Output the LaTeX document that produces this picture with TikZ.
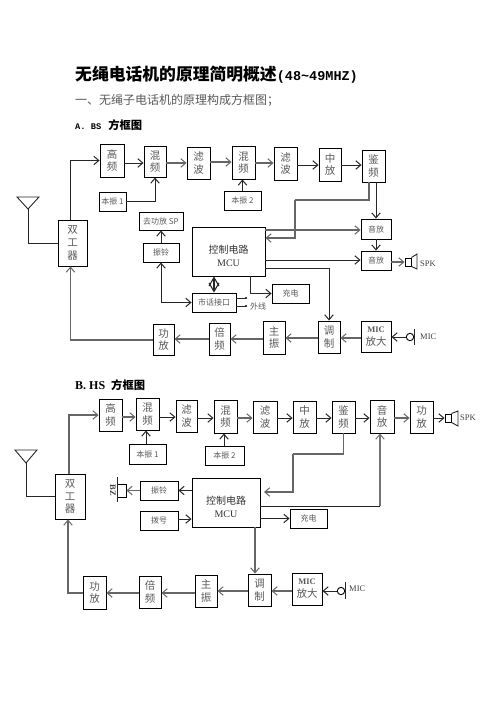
\documentclass[tikz,border=0pt]{standalone}
\usepackage{fontspec}
\setmainfont{Liberation Serif}
\newfontfamily\cjk{Noto Sans CJK SC}
\newfontfamily\monofont{Liberation Mono}
\usetikzlibrary{arrows.meta,calc}
\definecolor{txtgray}{gray}{0.35}
\newcommand{\mcutext}{\rule{0pt}{18pt}{\cjk 控制电路}\\MCU}
\newcommand{\mictext}{{\rmfamily\fontsize{8.5}{10}\selectfont\bfseries MIC}}
\tikzset{
  box/.style 2 args={draw,line width=0.9pt,inner sep=0pt,align=center,
    minimum width=#1pt,minimum height=#2pt,text=txtgray,font=\cjk\fontsize{10.5}{12.8}\selectfont},
  smallbox/.style 2 args={box={#1}{#2},font=\cjk\fontsize{8}{10}\selectfont},
  mcubox/.style 2 args={box={#1}{#2},text=black!80,font=\fontsize{10}{13}\selectfont},
  wire/.style={line width=0.9pt,draw=black!85},
  heavy/.style={line width=1.5pt,draw=black!60},
  arr/.style={wire,->},
  heavyarr/.style={heavy,->},
  tag/.style={inner sep=0pt,anchor=west,font=\fontsize{8.5}{10}\selectfont,text=black!75},
  head/.style={inner sep=0pt,anchor=west},
}
\begin{document}
\begin{tikzpicture}[x=1pt,y=-1pt,>={Straight Barb[length=5pt,width=8.5pt,line width=1pt]}]
  \useasboundingbox (0,0) rectangle (496,702);
  % headings
  \node[head] (title) at (75,75) {\cjk\bfseries\fontsize{16.8}{18}\selectfont 无绳电话机的原理简明概述{\monofont\fontsize{13.5}{18}\selectfont(48\textasciitilde49MHZ)}};
  \node[head,text=txtgray] (subtitle) at (75,100) {\cjk\fontsize{12}{14}\selectfont 一、无绳子电话机的原理构成方框图；};
  \node[head] (titleA) at (75,125) {{\monofont\bfseries\fontsize{8.7}{12}\selectfont A. BS}\hspace{7pt}{\cjk\bfseries\fontsize{11.3}{12}\selectfont 方框图}};
  \node[head] (titleB) at (75,385) {{\bfseries\fontsize{12}{12}\selectfont B. HS}\hspace{6pt}{\cjk\bfseries\fontsize{11.3}{12}\selectfont 方框图}};

  % A : blocks
  \node[box={24}{33}] (gaopinA) at (112,160.5) {高\\频};
  \node[box={22}{31}] (hunpinA) at (155,161.5) {混\\频};
  \node[box={23}{32}] (lvboA) at (198.5,163) {滤\\波};
  \node[box={23}{33}] (hunpinAA) at (243.5,162.5) {混\\频};
  \node[box={23}{33}] (lvboAA) at (285.5,163.5) {滤\\波};
  \node[box={22}{33}] (zhongfangA) at (330,164.5) {中\\放};
  \node[box={23}{32}] (jianpinA) at (373.5,166) {鉴\\频};
  \node[smallbox={27}{19}] (benzhenA) at (112.5,201.5) {本振 1};
  \node[smallbox={37}{19}] (benzhenAA) at (242.5,200.5) {本振 2};
  \node[smallbox={44}{18}] (qugongA) at (161,221) {去功放 SP};
  \node[smallbox={36}{19}] (zhenlingA) at (161,252.5) {振铃};
  \node[mcubox={73}{49}] (mcuA) at (228.5,251.5) {\mcutext};
  \node[smallbox={44}{19}] (shihuaA) at (214,302.5) {市话接口};
  \node[box={29}{46}] (duplexA) at (72.5,243) {双\\工\\器};
  \node[box={21}{31}] (gongfangA) at (163.5,339.5) {功\\放};
  \node[box={21}{32}] (beipinA) at (219.5,339) {倍\\频};
  \node[box={22}{33}] (zhuzhenA) at (274,337.5) {主\\振};
  \node[box={22}{32}] (tiaozhiA) at (329,337) {调\\制};
  \node[box={30}{31}] (micampA) at (376,336.5) {\mictext\\放大};
  \node[smallbox={30}{20}] (yinfangA) at (376,229) {音放};
  \node[smallbox={30}{19}] (yinfangAA) at (376,260.5) {音放};
  \node[smallbox={37}{19}] (chongdianA) at (290.5,293.5) {充电};

  % A : antenna, speaker, microphone
  \coordinate (antA) at (28,209);
  \draw[wire] (17,197) -- (39,197) -- (antA) -- cycle;
  \draw[wire] (antA) |- (duplexA.west);
  \node[draw,line width=0.9pt,minimum width=6pt,minimum height=8pt,inner sep=0pt] (spkA) at (408,262) {};
  \draw[wire] (spkA.north east) -- (417,254) -- (417,269) -- (spkA.south east);
  \node[tag] (spktagA) at (420,264) {SPK};
  \node[circle,draw,line width=0.9pt,minimum size=7.4pt,inner sep=0pt] (micA) at (410,337) {};
  \draw[wire] (414,329) -- (414,345);
  \node[tag] (mictagA) at (420,337) {MIC};
  \fill (246,298) circle (1.2pt) coordinate (lineAa);
  \fill (246,306) circle (1.2pt) coordinate (lineAb);
  \draw[wire] (lineAa -| shihuaA.east) -- (lineAa);
  \draw[wire] (lineAb -| shihuaA.east) -- (lineAb);
  \node[tag,text=txtgray,font=\cjk\fontsize{8}{10}\selectfont] (waixianA) at (250,306) {外线};

  % A : connectors
  \draw[arr] (duplexA.north -| 70.5,0) |- (gaopinA.west);
  \draw[arr] (gaopinA.east |- 0,163) -- (hunpinA.west |- 0,163);
  \draw[heavyarr] (hunpinA.east |- 0,163) -- (lvboA.west |- 0,163);
  \draw[heavyarr] (lvboA.east |- 0,162) -- (hunpinAA.west |- 0,162);
  \draw[heavyarr] (hunpinAA.east |- 0,163) -- (lvboAA.west |- 0,163);
  \draw[arr] (lvboAA.east |- 0,165) -- (zhongfangA.west |- 0,165);
  \draw[arr] (zhongfangA.east |- 0,165) -- (jianpinA.west |- 0,165);
  \draw[arr] (benzhenA.east) -| (hunpinA.south);
  \draw[arr] (benzhenAA.north) -- (hunpinAA.south -| benzhenAA.north);
  \draw[arr] (zhenlingA.north) -- (qugongA.south);
  \draw[wire,<->] (zhenlingA.south) |- (shihuaA.west);
  \draw[wire,line width=1.1pt,<->,>={Straight Barb[length=8.5pt,width=10pt,line width=1.1pt]}] (mcuA.south -| shihuaA.north) -- (shihuaA.north);
  \coordinate (jianbendA) at (295,200);
  \coordinate (jiandownA) at (295,238);
  \draw[heavy] (369,182) |- (jianbendA);
  \draw[heavy,->] (jianbendA) -- (jiandownA) -- (jiandownA -| mcuA.east);
  \draw[arr] (376,182) -- (yinfangA.north);
  \draw[heavyarr] (mcuA.east |- 0,230) -- (yinfangA.west |- 0,230);
  \draw[arr] (yinfangA.south) -- (yinfangAA.north);
  \draw[arr] (mcuA.east |- 0,260) -- (yinfangAA.west |- 0,260);
  \draw[heavyarr] (yinfangAA.east |- spkA) -- (spkA.west);
  \draw[wire,->] (mcuA.east |- 0,268) -| (tiaozhiA.north);
  \draw[arr] (mcuA.south -| 250,0) |- (chongdianA.west);
  \draw[arr] (micA.west) -- (micampA.east |- micA.west);
  \draw[heavyarr] (micampA.west |- 0,338) -- (tiaozhiA.east |- 0,338);
  \draw[heavyarr] (tiaozhiA.west |- 0,338) -- (zhuzhenA.east |- 0,338);
  \draw[heavyarr] (zhuzhenA.west |- 0,339) -- (beipinA.east |- 0,339);
  \draw[heavyarr] (beipinA.west |- 0,339) -- (gongfangA.east |- 0,339);
  \draw[heavy,->] (gongfangA.west |- 0,340) -| (duplexA.south -| 70.5,0);

  % B : blocks
  \node[box={23}{32}] (gaopinB) at (110.5,415) {高\\频};
  \node[box={23}{32}] (hunpinB) at (147.5,414) {混\\频};
  \node[box={21}{32}] (lvboB) at (186.5,416) {滤\\波};
  \node[box={23}{33}] (hunpinBB) at (225.5,416.5) {混\\频};
  \node[box={24}{32}] (lvboBB) at (265,417) {滤\\波};
  \node[box={23}{32}] (zhongfangB) at (304.5,417) {中\\放};
  \node[box={23}{32}] (jianpinB) at (343.5,417) {鉴\\频};
  \node[box={24}{33}] (yinfangB) at (382,416.5) {音\\放};
  \node[box={23}{32}] (gongfangBB) at (421.5,417) {功\\放};
  \node[smallbox={37}{20}] (benzhenB) at (147.5,454) {本振 1};
  \node[smallbox={39}{19}] (benzhenBB) at (224.5,455.5) {本振 2};
  \node[box={30}{45}] (duplexB) at (70,496.5) {双\\工\\器};
  \node[smallbox={38}{19}] (zhenlingB) at (159,490.5) {振铃};
  \node[smallbox={38}{19}] (bohaoB) at (159,520.5) {拨号};
  \node[mcubox={68}{49}] (mcuB) at (226,502.5) {\mcutext};
  \node[smallbox={37}{19}] (chongdianB) at (308.5,518.5) {充电};
  \node[box={23}{32}] (tiaozhiB) at (259.5,590) {调\\制};
  \node[box={30}{32}] (micampB) at (307,589) {\mictext\\放大};
  \node[box={22}{32}] (zhuzhenB) at (206,591) {主\\振};
  \node[box={22}{32}] (beipinB) at (150,592) {倍\\频};
  \node[box={23}{33}] (gongfangB) at (94.5,592.5) {功\\放};

  % B : antenna, buzzer, speaker, microphone
  \coordinate (antB) at (26,463);
  \draw[wire] (15,450) -- (37,450) -- (antB) -- cycle;
  \draw[wire] (antB) |- (duplexB.west);
  \node[draw,line width=0.9pt,minimum width=9pt,minimum height=13pt,inner sep=0pt] (buzzB) at (121.5,490.5) {};
  \draw[wire] (117,477) -- (117,502);
  \node[inner sep=0pt,rotate=-90,font=\fontsize{8.5}{10}\selectfont\bfseries,text=black!75] (bztagB) at (113,490) {BZ};
  \node[draw,line width=0.9pt,minimum width=6pt,minimum height=8pt,inner sep=0pt] (spkB) at (448,418) {};
  \draw[wire] (spkB.north east) -- (458,411) -- (458,426) -- (spkB.south east);
  \node[tag] (spktagB) at (460,418) {SPK};
  \node[circle,draw,line width=0.9pt,minimum size=7.4pt,inner sep=0pt] (micB) at (341,591) {};
  \draw[wire] (345,582) -- (345,599);
  \node[tag] (mictagB) at (349,589) {MIC};

  % B : connectors
  \draw[heavy,line width=1.2pt,->] (duplexB.north -| 69,0) |- (gaopinB.west);
  \draw[heavyarr] (gaopinB.east |- 0,417) -- (hunpinB.west |- 0,417);
  \draw[arr] (hunpinB.east |- 0,417) -- (lvboB.west |- 0,417);
  \draw[arr] (lvboB.east |- 0,418) -- (hunpinBB.west |- 0,418);
  \draw[heavyarr] (hunpinBB.east |- 0,418) -- (lvboBB.west |- 0,418);
  \draw[arr] (lvboBB.east |- 0,418) -- (zhongfangB.west |- 0,418);
  \draw[arr] (zhongfangB.east |- 0,418) -- (jianpinB.west |- 0,418);
  \draw[arr] (jianpinB.east |- 0,418) -- (yinfangB.west |- 0,418);
  \draw[heavyarr] (yinfangB.east |- 0,418) -- (gongfangBB.west |- 0,418);
  \draw[arr] (gongfangBB.east |- 0,418) -- (spkB.west);
  \draw[arr] (benzhenB.north -| 146,0) -- (hunpinB.south -| 146,0);
  \draw[arr] (benzhenBB.north -| 224,0) -- (hunpinBB.south -| 224,0);
  \coordinate (jianbendB) at (293,454);
  \coordinate (jiandownB) at (293,492);
  \draw[heavy] (jianpinB.south) |- (jianbendB);
  \draw[heavy,->] (jianbendB) -- (jiandownB) -- (264,492);
  \draw[wire] (mcuB.east |- 0,506) -- (380,506);
  \draw[line width=1.6pt,draw=black!55,->] (380,506) -- (yinfangB.south -| 380,0);
  \draw[arr] (mcuB.east |- chongdianB.west) -- (chongdianB.west);
  \draw[heavyarr] (mcuB.south -| 255,0) -- (tiaozhiB.north -| 255,0);
  \draw[arr] (mcuB.west |- zhenlingB.east) -- (zhenlingB.east);
  \draw[heavyarr] (zhenlingB.west) -- (buzzB.east);
  \draw[arr] (bohaoB.east |- 0,519) -- (mcuB.west |- 0,519);
  \draw[arr] (micB.west) -- (micampB.east |- micB.west);
  \draw[heavyarr] (micampB.west |- 0,591) -- (tiaozhiB.east |- 0,591);
  \draw[heavyarr] (tiaozhiB.west |- 0,591) -- (zhuzhenB.east |- 0,591);
  \draw[heavyarr] (zhuzhenB.west |- 0,593) -- (beipinB.east |- 0,593);
  \draw[heavyarr] (beipinB.west |- 0,593) -- (gongfangB.east |- 0,593);
  \draw[heavy,->] (gongfangB.west |- 0,593) -| (duplexB.south -| 68,0);
\end{tikzpicture}
\end{document}
